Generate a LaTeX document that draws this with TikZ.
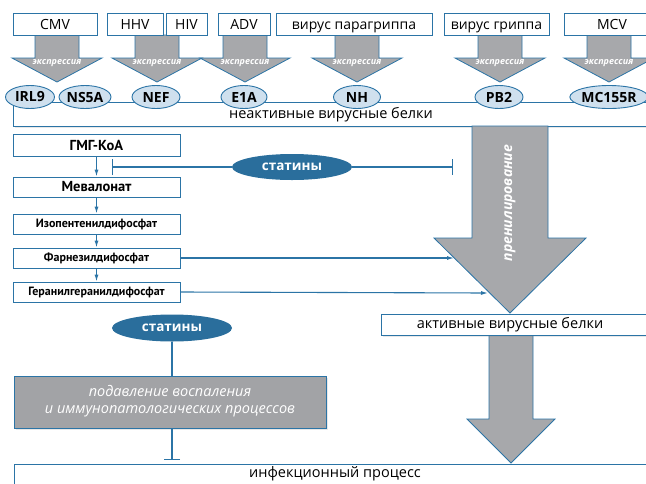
\documentclass[tikz,border=0pt]{standalone}
\usepackage{fontspec}
\setmainfont{Open Sans}
\newfontfamily\ptsans{PT Sans}
\usetikzlibrary{arrows.meta,shadows,calc,shapes.geometric}
\definecolor{myblue}{HTML}{2B74A6}
\definecolor{darkblue}{HTML}{2A6E9C}
\definecolor{lightblue}{HTML}{CFE0EE}
\definecolor{arrowgray}{HTML}{A7A8AB}
\definecolor{boxgray}{HTML}{A2A3A6}
\tikzset{
  box/.style={draw=myblue, fill=white, line width=0.9pt, inner sep=0pt,
    drop shadow={opacity=0.18, shadow xshift=1.2pt, shadow yshift=-1.2pt}},
  toplbl/.style={box, text height=12pt, text depth=2pt, font=\fontsize{14}{14}\selectfont},
  colbox/.style={box, minimum width=167pt},
  prot/.style={ellipse, draw=myblue, fill=lightblue, line width=0.9pt, inner sep=0pt,
    minimum height=23pt, font=\bfseries\fontsize{14}{14}\selectfont},
  statin/.style={ellipse, fill=darkblue, text=white, inner sep=0pt,
    minimum width=120pt, minimum height=26pt, font=\bfseries\fontsize{13.5}{13.5}\selectfont},
  garrow/.style={draw=myblue, fill=arrowgray, line width=0.8pt, line join=miter},
  exprtext/.style={text=white, font=\bfseries\itshape\fontsize{9}{9}\selectfont, inner sep=0pt},
  conn/.style={draw=myblue, line width=1.1pt},
  tip/.style={-{Latex[length=7pt,width=4pt]}},
  inhib/.style={-{Bar[width=16pt,line width=1.4pt]}},
  plain/.style={font=\fontsize{14.5}{14.5}\selectfont, inner sep=0pt},
}
\newcommand\exprarrow[1]{%
  \draw[garrow] (#1-22,35) -- (#1-22,58) -- (#1-45,58) -- (#1,82) -- (#1+45,58) -- (#1+22,58) -- (#1+22,35) -- cycle;
  \node[exprtext] at (#1,63.5) {экспрессия};
}
\begin{document}
\begin{tikzpicture}[x=1pt,y=-1pt]
\useasboundingbox (0,0) rectangle (646,483);
% expression arrows
\exprarrow{57}
\exprarrow{157}
\exprarrow{245}
\exprarrow{357}
\exprarrow{500}
\exprarrow{609}
% top boxes
\node[toplbl, minimum width=84pt, minimum height=22pt] (cmv) at (55,24) {CMV};
\node[toplbl, minimum width=56pt, minimum height=22pt] (hhv) at (135,24) {HHV};
\node[toplbl, minimum width=41pt, minimum height=22pt] (hiv) at (186.5,24) {HIV};
\node[toplbl, minimum width=52pt, minimum height=22pt] (adv) at (244,24) {ADV};
\node[toplbl, minimum width=156pt, minimum height=22pt] (para) at (354,24) {вирус парагриппа};
\node[toplbl, minimum width=105pt, minimum height=22pt] (flu) at (496.5,24) {вирус гриппа};
\node[box, minimum width=90pt, minimum height=22pt] (mcv) at (609,24) {};
\node[plain, text height=12pt, text depth=2pt, font=\fontsize{14}{14}\selectfont] (mcvtxt) at (612,24) {MCV};
% inactive proteins
\node[box, minimum width=660pt, minimum height=24pt, anchor=north west] (inact) at (13,102) {};
\node[plain] (inacttxt) at (331,115) {неактивные вирусные белки};
% proteins
\node[prot, minimum width=49pt] (irl9) at (30,97) {IRL9};
\node[prot, minimum width=47pt] (ns5a) at (85,97) {NS5A};
\node[prot, minimum width=48pt] (nef) at (156,97) {NEF};
\node[prot, minimum width=46pt] (e1a) at (244,97) {E1A};
\node[prot, minimum width=47pt] (nh) at (357,97) {NH};
\node[prot, minimum width=48pt] (pb2) at (499,97) {PB2};
\node[prot, minimum width=73pt] (mc) at (609,97) {MC155R};
% prenylation arrow
\draw[garrow] (472,126) -- (472,238) -- (434,238) -- (510,313) -- (586,238) -- (548,238) -- (548,126) -- cycle;
\node[rotate=90, text=white, font=\bfseries\itshape\fontsize{14}{14}\selectfont, inner sep=0pt] (pren) at (510,203) {пренилирование};
% lower arrow
\draw[garrow] (489,335) -- (489,419) -- (467,419) -- (511,463) -- (555,419) -- (533,419) -- (533,335) -- cycle;
% column
\node[colbox, minimum height=22pt, font=\ptsans\bfseries\fontsize{14.5}{14.5}\selectfont] (hmg) at (96.5,145) {ГМГ-КоА};
\node[colbox, minimum height=20pt, font=\ptsans\bfseries\fontsize{14.5}{14.5}\selectfont] (mev) at (96.5,187) {Мевалонат};
\node[colbox, minimum height=20pt, font=\ptsans\bfseries\fontsize{12}{12}\selectfont] (izo) at (96.5,224) {Изопентенилдифосфат};
\node[colbox, minimum height=20pt, font=\ptsans\bfseries\fontsize{12}{12}\selectfont] (farn) at (96.5,258) {Фарнезилдифосфат};
\node[colbox, minimum height=20pt, font=\ptsans\bfseries\fontsize{12}{12}\selectfont] (ger) at (96.5,292) {Геранилгеранилдифосфат};
\draw[conn,tip] (hmg) -- (mev);
\draw[conn,tip] (mev) -- (izo);
\draw[conn,tip] (izo) -- (farn);
\draw[conn,tip] (farn) -- (ger);
% statins 1
\node[statin] (st1) at (292,167) {статины};
\coordinate (t1) at (112,167);
\coordinate (t2) at (453,167);
\draw[conn,inhib] (st1.west) -- (t1);
\draw[conn,inhib] (st1.east) -- (t2);
% farnesyl / geranyl links
\coordinate (f2) at (454,258);
\coordinate (g2) at (488,293);
\draw[conn,tip] (farn.east) -- (f2);
\draw[conn,tip] (ger.east) -- (g2);
% active proteins
\node[box, minimum width=280pt, minimum height=21pt, anchor=north west] (act) at (381,314) {};
\node[plain] (acttxt) at (510,324.5) {активные вирусные белки};
% statins 2 and suppression
\node[statin, minimum height=27pt] (st2) at (172,328) {статины};
\node[box, fill=boxgray, minimum width=312pt, minimum height=52pt, anchor=north west] (supp) at (14,376) {};
\node[text=white, align=center, font=\itshape\fontsize{14.5}{17}\selectfont, inner sep=0pt] (supptxt) at (170,401.5) {подавление воспаления\\и иммунопатологических процессов};
\draw[conn] (st2.south) -- (st2.south |- supp.north);
\coordinate (t3) at (172,460);
\draw[conn,inhib] (172,428) -- (t3);
% infection
\node[box, minimum width=660pt, minimum height=30pt, anchor=north west] (inf) at (14,464) {};
\node[plain] (inftxt) at (335,474) {инфекционный процесс};
\end{tikzpicture}
\end{document}
